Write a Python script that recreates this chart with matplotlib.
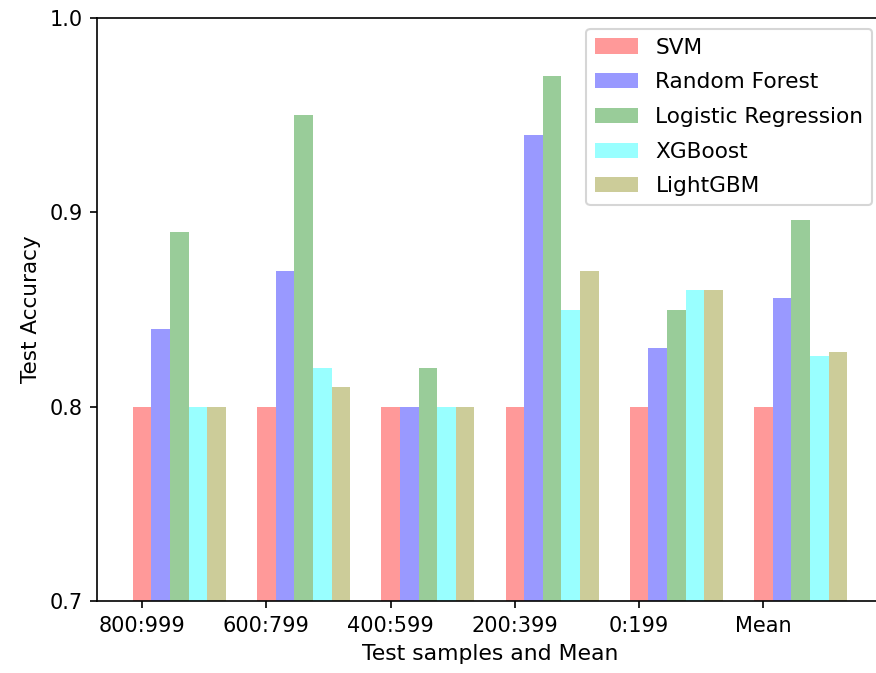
import matplotlib
matplotlib.use("Agg")
import matplotlib.pyplot as plt
import numpy as np

groups = ["800:999", "600:799", "400:599", "200:399", "0:199", "Mean"]

svm           = [0.80, 0.80, 0.80, 0.80, 0.80, 0.800]
random_forest = [0.84, 0.87, 0.80, 0.94, 0.83, 0.856]
logistic_reg  = [0.89, 0.95, 0.82, 0.97, 0.85, 0.896]
xgboost       = [0.80, 0.82, 0.80, 0.85, 0.86, 0.826]
lightgbm      = [0.80, 0.81, 0.80, 0.87, 0.86, 0.828]

series = [
    ("SVM", svm, "red"),
    ("Random Forest", random_forest, "blue"),
    ("Logistic Regression", logistic_reg, "green"),
    ("XGBoost", xgboost, "cyan"),
    ("LightGBM", lightgbm, "olive"),
]

fig = plt.figure(figsize=(876 / 150, 673 / 150), dpi=150)
ax = fig.add_axes([97 / 876, 72 / 673, 786 / 876, 583 / 673])

index = np.arange(len(groups))
bar_width = 0.15
opacity = 0.4

for i, (name, vals, color) in enumerate(series):
    ax.bar(index + i * bar_width, vals, bar_width,
           alpha=opacity, color=color, label=name)

ax.set_xlabel("Test samples and Mean", fontsize=10.5)
ax.set_ylabel("Test Accuracy", fontsize=10.3)
ax.set_xticks(index)
ax.set_xticklabels(groups)
ax.set_ylim(0.7, 1.0)
ax.set_yticks([0.7, 0.8, 0.9, 1.0])
ax.spines["right"].set_visible(False)
ax.legend(loc="upper right", fontsize=10.4, labelspacing=0.68)

fig.savefig("out.png", dpi=150)
